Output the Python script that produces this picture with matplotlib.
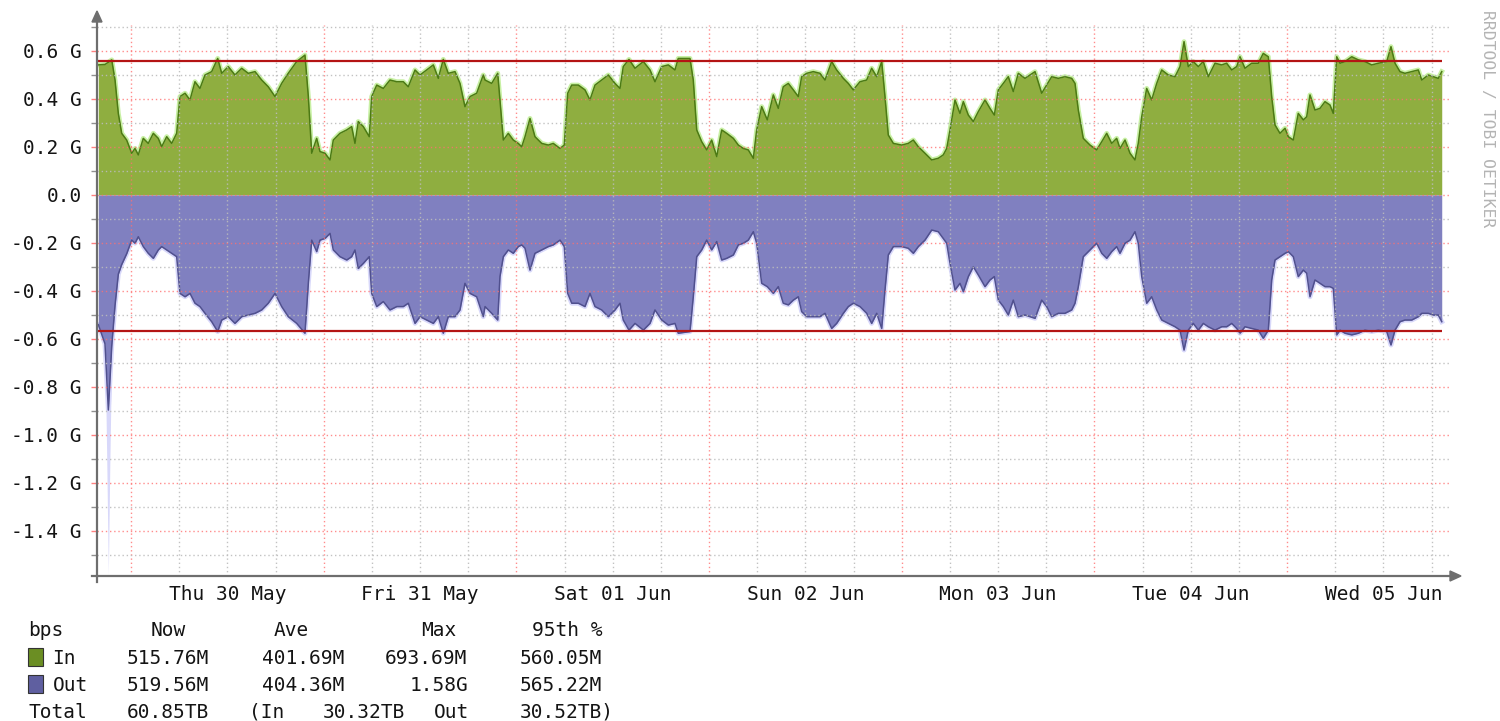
import matplotlib
matplotlib.use("Agg")
import matplotlib.pyplot as plt
from matplotlib.patches import Rectangle, Polygon
from matplotlib.lines import Line2D

# ---------------- data (hours relative to Thu 30 May 00:00, values in Mbit/s) -------------
hours = [
    -4.07, -3.24, -2.82, -2.40, -1.99, -1.58, -1.16, -0.54, 0.09, 0.50,
    0.91, 1.53, 2.15, 2.78, 3.40, 3.82, 4.45, 5.07, 5.69, 6.10,
    6.73, 7.35, 7.97, 8.59, 9.22, 10.05, 10.80, 11.30, 12.12, 12.95,
    13.79, 14.61, 15.45, 16.28, 17.10, 17.94, 18.77, 19.59,
    20.64, 21.67, 22.09, 22.51, 23.13, 23.54, 24.17, 24.79, 25.20, 26.03,
    26.87, 27.49, 27.90, 28.31, 28.94, 29.68, 29.98, 30.61, 31.43, 32.26,
    33.10, 33.92, 34.54, 35.38, 36.00, 36.83, 37.66, 38.28, 38.90, 39.52,
    40.36, 40.98, 41.60, 42.23, 43.06, 43.88,
    44.10, 44.93, 45.68, 45.96, 46.38, 47.00, 47.62, 48.24, 48.67, 49.08,
    49.70, 50.32, 51.16, 51.98, 52.60, 53.44, 53.97, 54.40, 54.90, 55.72,
    56.55, 57.17, 57.80, 58.63, 59.46, 60.29, 60.91, 61.32, 62.03, 62.78,
    63.82, 64.65, 65.27, 66.11, 66.93, 67.76, 68.17,
    69.63, 70.04, 70.47, 71.09, 71.71, 72.33, 72.96, 73.58, 74.20, 75.03,
    75.65, 76.27, 76.89, 77.52, 77.94, 78.56, 79.26, 80.01, 80.63, 81.25,
    81.88, 82.50, 83.12, 83.54, 84.17, 84.99, 85.82, 86.45, 87.28, 87.90,
    88.73, 89.35, 89.97, 90.81, 91.64, 92.26, 92.89,
    93.51, 93.92, 94.33, 94.96, 96.00, 96.82, 97.45, 98.07, 98.90, 99.74,
    100.56, 101.18, 101.61, 102.02, 102.64, 103.26, 103.68, 104.30, 104.92, 105.54,
    106.38, 107.00, 107.54, 108.04, 108.66, 109.28, 109.90, 110.53, 111.36, 111.98,
    112.61, 113.44, 114.06, 114.69, 115.51, 116.34, 117.18,
    117.59, 118.00, 118.62, 119.46, 120.29, 120.92, 121.54, 122.16, 122.78, 123.19,
    123.82, 124.44, 125.06, 125.47, 125.90, 126.52, 127.14, 127.77, 128.39, 129.21,
    130.05, 130.67, 131.17, 131.70, 132.32, 132.95, 133.57, 134.19, 135.03, 135.86,
    136.48, 137.11, 137.73, 138.14, 138.76, 139.60, 140.42, 141.04,
    141.67, 142.09, 142.50, 143.12, 143.75, 144.16, 144.78, 145.40, 146.03, 146.45,
    146.86, 147.48, 148.11, 148.73, 149.35, 149.76, 150.19, 150.60, 151.22, 152.06,
    152.88, 153.71, 154.55, 155.37, 156.42, 156.95, 157.45, 158.07, 158.69, 159.53,
    160.35, 160.78, 161.60, 162.22, 162.84, 163.27,
]

in_mbps = [
    542, 544, 553, 563, 479, 340, 257, 229, 174, 194,
    167, 236, 215, 257, 236, 201, 243, 215, 257, 410,
    424, 396, 472, 444, 500, 514, 569, 507, 535, 500,
    528, 507, 514, 479, 451, 410, 465, 507,
    556, 583, 410, 174, 236, 181, 174, 146, 229, 257,
    271, 285, 215, 306, 285, 243, 410, 458, 444, 479,
    472, 472, 451, 521, 500, 521, 542, 486, 565, 507,
    514, 465, 368, 410, 424, 500,
    479, 465, 507, 396, 229, 257, 229, 215, 201, 243,
    319, 243, 215, 208, 215, 194, 208, 424, 458, 458,
    438, 396, 458, 479, 500, 465, 444, 535, 565, 528,
    556, 521, 472, 535, 542, 521, 569,
    569, 479, 271, 222, 188, 229, 160, 271, 257, 236,
    208, 194, 188, 153, 271, 368, 313, 417, 361, 451,
    465, 438, 410, 493, 507, 514, 507, 479, 556, 521,
    486, 465, 438, 472, 479, 528, 493,
    556, 410, 250, 215, 208, 215, 229, 201, 174, 146,
    153, 167, 194, 271, 396, 340, 389, 333, 306, 347,
    396, 361, 333, 438, 465, 493, 431, 507, 486, 500,
    514, 424, 458, 493, 486, 493, 486,
    465, 354, 236, 208, 188, 222, 257, 215, 236, 194,
    229, 174, 146, 215, 326, 444, 396, 465, 521, 500,
    493, 535, 639, 535, 556, 535, 556, 493, 549, 542,
    549, 521, 535, 576, 528, 549, 549, 590,
    576, 410, 292, 257, 278, 243, 229, 340, 313, 326,
    417, 354, 361, 389, 375, 340, 576, 549, 556, 576,
    563, 556, 542, 549, 556, 618, 549, 514, 507, 514,
    521, 479, 500, 493, 486, 514,
]

out_mbps = [
    -540, -620, -896, -630, -460, -330, -290, -245, -188, -201,
    -174, -215, -243, -264, -229, -215, -229, -243, -257, -410,
    -424, -410, -451, -465, -493, -528, -569, -521, -507, -535,
    -507, -500, -493, -479, -451, -410, -465, -507,
    -535, -576, -368, -188, -236, -188, -181, -160, -229, -257,
    -271, -257, -229, -306, -285, -257, -410, -465, -444, -479,
    -465, -465, -451, -535, -507, -521, -535, -507, -576, -507,
    -507, -479, -368, -410, -424, -507,
    -465, -493, -521, -340, -257, -229, -243, -215, -208, -222,
    -313, -243, -229, -215, -208, -188, -215, -410, -451, -451,
    -465, -410, -465, -479, -507, -479, -451, -521, -563, -535,
    -563, -535, -479, -521, -542, -535, -576,
    -569, -424, -257, -229, -188, -229, -194, -271, -264, -250,
    -208, -201, -188, -153, -201, -368, -382, -410, -382, -451,
    -458, -438, -424, -486, -507, -507, -507, -493, -556, -535,
    -493, -465, -451, -465, -493, -535, -493,
    -556, -396, -250, -215, -215, -222, -243, -215, -188, -146,
    -153, -181, -201, -285, -396, -368, -403, -340, -299, -333,
    -382, -354, -340, -438, -465, -500, -438, -507, -500, -507,
    -514, -438, -465, -507, -493, -493, -479,
    -451, -382, -257, -229, -201, -243, -264, -236, -215, -243,
    -201, -188, -153, -201, -340, -451, -424, -479, -521, -535,
    -549, -563, -646, -563, -535, -563, -535, -549, -563, -549,
    -549, -535, -556, -576, -549, -556, -563, -597,
    -563, -354, -271, -257, -243, -236, -257, -340, -313, -326,
    -424, -354, -368, -382, -382, -389, -583, -563, -576, -583,
    -576, -563, -569, -563, -569, -625, -563, -528, -521, -521,
    -507, -493, -493, -500, -500, -528,
]

# short burst of the "Out" peak (max) values near the start
out_peak_hours = [-3.24, -3.00, -2.82, -2.65, -2.40]
out_peak_mbps = [-620, -1150, -1580, -1150, -630]

p95_in = 560.05
p95_out = -565.22

day_label_hours = [12, 36, 60, 84, 108, 132, 156]
day_labels = ["Thu 30 May", "Fri 31 May", "Sat 01 Jun", "Sun 02 Jun",
              "Mon 03 Jun", "Tue 04 Jun", "Wed 05 Jun"]

ytick_vals = [-1400, -1200, -1000, -800, -600, -400, -200, 0, 200, 400, 600]
ytick_labels = ["-1.4 G", "-1.2 G", "-1.0 G", "-0.8 G", "-0.6 G", "-0.4 G",
                "-0.2 G", "0.0", "0.2 G", "0.4 G", "0.6 G"]
ytick_minor = [-1500, -1300, -1100, -900, -700, -500, -300, -100, 100, 300, 500, 700]
xgrid_major = [0, 24, 48, 72, 96, 120, 144]
xgrid_minor = [6, 12, 18, 30, 36, 42, 54, 60, 66, 78, 84, 90, 102, 108, 114,
               126, 132, 138, 150, 156, 162]

legend_header = [(0, "bps"), (10, "Now"), (20, "Ave"), (32, "Max"), (41, "95th %")]
legend_in = [(2, "In"), (8, "515.76M"), (19, "401.69M"), (29, "693.69M"), (40, "560.05M")]
legend_out = [(2, "Out"), (8, "519.56M"), (19, "404.36M"), (31, "1.58G"), (40, "565.22M")]
legend_total = [(0, "Total"), (8, "60.85TB"), (18, "(In"), (24, "30.32TB"),
                (33, "Out"), (40, "30.52TB)")]

# ---------------- styling ----------------
W, H = 1500, 721
MONO = "DejaVu Sans Mono"
TXT = "#141414"
FS = 14
GREEN_FILL = "#8fae40"
GREEN_LINE = "#4c7a14"
GREEN_HALO = "#c8f0a4"
BLUE_FILL = "#8080c0"
BLUE_LINE = "#50508e"
BLUE_HALO = "#d8d8fa"
RED = "#b41414"
AXIS_C = "#6e6e6e"


def fx(x):
    return x / W


def fy(y):
    return 1 - y / H


fig = plt.figure(figsize=(W / 100, H / 100), dpi=100)
fig.patch.set_facecolor("white")
ax = fig.add_axes([fx(97), fy(576), (1450 - 97) / W, (576 - 25) / H])
ax.set_facecolor("white")

ax.set_xlim(-4.235, 164.3)
ax.set_ylim(-1587.5, 708.3)

# grid
for h in xgrid_minor:
    ax.axvline(h, color="#bcbcbc", lw=1.0, ls=(0, (1, 2)), zorder=4, alpha=0.9)
for h in xgrid_major:
    ax.axvline(h, color="#ff7070", lw=1.0, ls=(0, (1, 2)), zorder=4, alpha=0.8)
for v in ytick_minor:
    ax.axhline(v, color="#bcbcbc", lw=1.0, ls=(0, (1, 2)), zorder=4, alpha=0.9)
for v in ytick_vals:
    ax.axhline(v, color="#ff7070", lw=1.0, ls=(0, (1, 2)), zorder=4, alpha=0.8)

# areas
ax.fill_between(out_peak_hours, 0, out_peak_mbps, color=BLUE_HALO, lw=0, zorder=0.8)
ax.plot(hours, in_mbps, color=GREEN_HALO, lw=3.5, zorder=0.9, solid_joinstyle="round")
ax.plot(hours, out_mbps, color=BLUE_HALO, lw=3.5, zorder=0.9, solid_joinstyle="round")
ax.fill_between(hours, 0, in_mbps, color=GREEN_FILL, lw=0, zorder=1)
ax.fill_between(hours, 0, out_mbps, color=BLUE_FILL, lw=0, zorder=1)
ax.plot(hours, in_mbps, color=GREEN_LINE, lw=1.1, zorder=3)
ax.plot(hours, out_mbps, color=BLUE_LINE, lw=1.1, zorder=3)

# 95th percentile lines
ax.hlines([p95_in, p95_out], hours[0], hours[-1], colors=RED, lw=1.6, zorder=5)

# ticks
ax.set_xticks([])
ax.set_yticks(ytick_vals)
ax.set_yticklabels(ytick_labels, fontfamily=MONO, fontsize=FS, color=TXT)
ax.set_yticks(ytick_minor, minor=True)
ax.tick_params(axis="y", which="major", length=4, width=1, color="#ff8080", pad=7)
ax.tick_params(axis="y", which="minor", length=4, width=1, color="#909090")
for s in ax.spines.values():
    s.set_visible(False)

xt = ax.get_xaxis_transform()
for h, lab in zip(day_label_hours, day_labels):
    ax.text(h, (576 - 600) / 551, lab, transform=xt, ha="center", va="baseline",
            fontfamily=MONO, fontsize=FS, color=TXT)

# axis lines with arrows
fig.add_artist(Line2D([fx(97), fx(97)], [fy(582), fy(18)], color=AXIS_C, lw=1.6))
fig.add_artist(Line2D([fx(92), fx(1452)], [fy(576), fy(576)], color=AXIS_C, lw=1.6))
fig.add_artist(Polygon([[fx(97), fy(11)], [fx(92), fy(22)], [fx(102), fy(22)]],
                       closed=True, color=AXIS_C, transform=fig.transFigure))
fig.add_artist(Polygon([[fx(1461), fy(576)], [fx(1450), fy(571)], [fx(1450), fy(581)]],
                       closed=True, color=AXIS_C, transform=fig.transFigure))

# credit text
fig.text(fx(1488), fy(119), "RRDTOOL / TOBI OETIKER", rotation=270, ha="center",
         va="center", fontfamily=MONO, fontsize=11.8, color="#b4b4b4")

# legend
ADV = 12.3
X0 = 28


def put_row(tokens, baseline):
    for col, txt in tokens:
        fig.text(fx(X0 + col * ADV), fy(baseline), txt, ha="left", va="baseline",
                 fontfamily=MONO, fontsize=FS, color=TXT)


put_row(legend_header, 636)
put_row(legend_in, 664)
put_row(legend_out, 691)
put_row(legend_total, 718)
fig.add_artist(Rectangle((fx(28), fy(666)), 15 / W, 18 / H, transform=fig.transFigure,
                         facecolor="#6b8e23", edgecolor="#333333", lw=0.8))
fig.add_artist(Rectangle((fx(28), fy(693)), 15 / W, 18 / H, transform=fig.transFigure,
                         facecolor="#5f5fa0", edgecolor="#333333", lw=0.8))

fig.savefig("out.png", dpi=100, facecolor="white")
